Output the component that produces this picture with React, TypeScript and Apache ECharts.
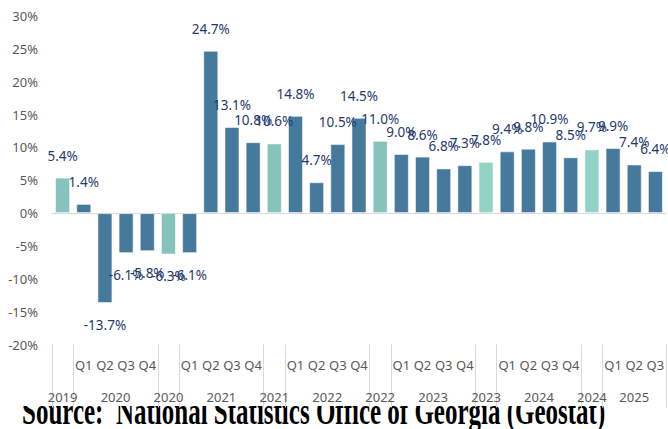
import React, { useEffect, useRef } from "react";
import * as echarts from "echarts";

// ---- data ----
const periods: string[] = [
  "", "Q1", "Q2", "Q3", "Q4", "", "Q1", "Q2", "Q3", "Q4", "", "Q1", "Q2", "Q3", "Q4", "",
  "Q1", "Q2", "Q3", "Q4", "", "Q1", "Q2", "Q3", "Q4", "", "Q1", "Q2", "Q3",
];
const years: string[] = [
  "2019", "2020", "2020", "2020", "2020", "2020", "2021", "2021", "2021", "2021", "2021",
  "2022", "2022", "2022", "2022", "2022", "2023", "2023", "2023", "2023", "2023",
  "2024", "2024", "2024", "2024", "2024", "2025", "2025", "2025",
];
const isAnnual: boolean[] = [
  true, false, false, false, false, true, false, false, false, false, true,
  false, false, false, false, true, false, false, false, false, true,
  false, false, false, false, true, false, false, false,
];
const growth: number[] = [
  5.4, 1.4, -13.7, -6.1, -5.8, -6.3, -6.1, 24.7, 13.1, 10.8, 10.6,
  14.8, 4.7, 10.5, 14.5, 11.0, 9.0, 8.6, 6.8, 7.3, 7.8,
  9.4, 9.8, 10.9, 8.5, 9.7, 9.9, 7.4, 6.4,
];
const sourceText = "Source:  National Statistics Office of Georgia (Geostat)";

const BLUE = "#467a9c";
const TEAL = "#85c3bb";
const TEAL_LIGHT = "#93d3c6";

export default function App() {
  const ref = useRef<HTMLDivElement>(null);

  useEffect(() => {
    document.body.style.margin = "0";
    if (!ref.current) return;
    const chart = echarts.init(ref.current, undefined, { renderer: "svg" });

    // year group label positions (value axis units: bar i spans [i, i+1])
    const yearAt: Record<number, string> = {};
    let start = 0;
    for (let i = 1; i <= years.length; i++) {
      const boundary =
        i === years.length || years[i] !== years[i - 1] || isAnnual[i] || isAnnual[i - 1];
      if (boundary) {
        const center2 = start + i; // 2*center
        yearAt[center2] = years[start];
        start = i;
      }
    }

    const data = growth.map((v, i) => {
      let color = BLUE;
      if (isAnnual[i]) color = Number(years[i]) >= 2023 ? TEAL_LIGHT : TEAL;
      return { value: v, itemStyle: { color } };
    });

    const font = '"Noto Sans", sans-serif';

    chart.setOption({
      animation: false,
      grid: {
        left: 52,
        right: 2,
        top: 16,
        bottom: 84.5,
        containLabel: false,
        outerBoundsMode: "none",
      },
      yAxis: {
        type: "value",
        min: -20,
        max: 30,
        interval: 5,
        axisLine: { show: false },
        axisTick: { show: false },
        splitLine: { show: false },
        axisLabel: {
          formatter: (v: number) => `${v}%`,
          color: "#595959",
          fontSize: 13,
          fontFamily: font,
          margin: 14,
        },
      },
      xAxis: [
        {
          type: "category",
          data: periods.map((_, i) => String(i)),
          position: "bottom",
          axisLine: { show: true, onZero: true, lineStyle: { color: "#d9d9d9", width: 1 } },
          axisTick: { show: false },
          axisLabel: { show: false },
          splitLine: { show: false },
          z: 10,
        },
        {
          type: "category",
          data: periods,
          position: "bottom",
          axisLine: { show: false, onZero: false },
          axisTick: {
            show: true,
            length: 63,
            interval: (index: number) => index === 0 || isAnnual[index] || isAnnual[index - 1],
            lineStyle: { color: "#d9d9d9", width: 1 },
          },
          axisLabel: {
            interval: 0,
            color: "#595959",
            fontSize: 13,
            fontFamily: font,
            margin: 14,
          },
          splitLine: { show: false },
          z: 10,
        },
        {
          type: "value",
          min: 0,
          max: years.length,
          interval: 0.5,
          position: "bottom",
          axisLine: { show: false, onZero: false },
          axisTick: { show: false },
          splitLine: { show: false },
          axisLabel: {
            formatter: (v: number) => yearAt[Math.round(v * 2)] || "",
            color: "#595959",
            fontSize: 13,
            fontFamily: font,
            margin: 46,
            showMinLabel: true,
            showMaxLabel: true,
          },
          z: 10,
        },
      ],
      series: [
        {
          type: "bar",
          xAxisIndex: 0,
          yAxisIndex: 0,
          data,
          barWidth: "71%",
          itemStyle: { borderColor: "rgba(255,255,255,0.55)", borderWidth: 1 },
          label: {
            show: true,
            position: "outside",
            distance: 15,
            formatter: (p: any) => `${Number(p.value).toFixed(1)}%`,
            color: "#1f3a6e",
            fontSize: 13.5,
            fontFamily: font,
          },
        },
      ],
      graphic: [
        {
          type: "text",
          x: 22,
          y: 412,
          scaleY: 1.5,
          z: 1,
          style: {
            text: sourceText,
            font: 'bold 25px "Liberation Serif", serif',
            fill: "#000000",
            verticalAlign: "middle",
          },
        },
        {
          type: "rect",
          z: 2,
          shape: { x: 0, y: 380, width: 668, height: 26 },
          style: { fill: "#ffffff" },
        },
      ],
    });

    return () => chart.dispose();
  }, []);

  return <div ref={ref} style={{ width: 668, height: 429 }} />;
}
